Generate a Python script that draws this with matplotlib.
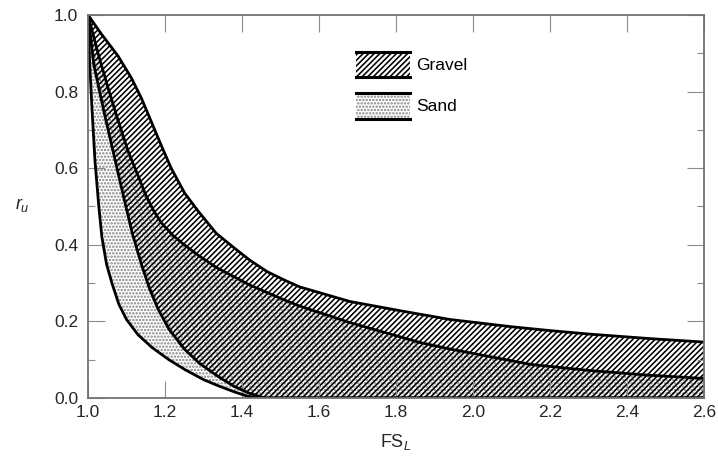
import numpy as np
import matplotlib
matplotlib.use('Agg')
import matplotlib.pyplot as plt
from matplotlib.patches import Rectangle
from matplotlib.lines import Line2D
from matplotlib.legend_handler import HandlerBase

plt.rcParams['font.family'] = ['Liberation Sans', 'DejaVu Sans']
plt.rcParams['mathtext.fontset'] = 'custom'
plt.rcParams['mathtext.rm'] = 'Liberation Sans'
plt.rcParams['mathtext.it'] = 'Liberation Sans:italic'
plt.rcParams['hatch.linewidth'] = 1.15

# curves (FS_L, r_u)
# gravel upper bound
gravel_up_fs = [1.0, 1.035, 1.078, 1.113, 1.139, 1.165, 1.19, 1.216, 1.251, 1.286, 1.333, 1.382,
                1.42, 1.465, 1.512, 1.55, 1.68, 1.81, 1.94, 2.1, 2.2, 2.3, 2.46, 2.6]
gravel_up_r = [1.0, 0.95, 0.893, 0.835, 0.782, 0.72, 0.66, 0.60, 0.535, 0.488, 0.43, 0.39,
               0.36, 0.33, 0.307, 0.29, 0.252, 0.228, 0.205, 0.186, 0.176, 0.167, 0.155, 0.146]
# gravel lower bound
gravel_lo_fs = [1.0, 1.015, 1.043, 1.073, 1.096, 1.115, 1.14, 1.16, 1.182, 1.21, 1.25, 1.29,
                1.338, 1.38, 1.42, 1.46, 2.6]
gravel_lo_r = [1.0, 0.87, 0.74, 0.61, 0.51, 0.43, 0.345, 0.285, 0.232, 0.18, 0.128, 0.09,
               0.056, 0.03, 0.012, 0.0, 0.0]
# sand upper bound
sand_up_fs = [1.0, 1.026, 1.052, 1.078, 1.104, 1.13, 1.15, 1.17, 1.19, 1.22, 1.25, 1.29, 1.335,
              1.42, 1.51, 1.55, 1.68, 1.862, 1.94, 2.148, 2.3, 2.45, 2.6]
sand_up_r = [1.0, 0.90, 0.81, 0.725, 0.645, 0.58, 0.53, 0.49, 0.458, 0.425, 0.40, 0.37, 0.34,
             0.295, 0.256, 0.24, 0.197, 0.145, 0.128, 0.088, 0.072, 0.06, 0.051]
# sand lower bound
sand_lo_fs = [1.0, 1.004, 1.01, 1.018, 1.028, 1.036, 1.048, 1.062, 1.08, 1.1, 1.13, 1.166, 1.21,
              1.252, 1.3, 1.338, 1.38, 1.41, 1.44, 2.6]
sand_lo_r = [1.0, 0.88, 0.76, 0.62, 0.50, 0.42, 0.35, 0.30, 0.245, 0.205, 0.165, 0.132, 0.10,
             0.074, 0.048, 0.032, 0.016, 0.006, 0.0, 0.0]

x_ticks = [1.0, 1.2, 1.4, 1.6, 1.8, 2.0, 2.2, 2.4, 2.6]
y_ticks = [0.0, 0.2, 0.4, 0.6, 0.8, 1.0]


class BandHandler(HandlerBase):
    # hatched box with a heavy line on top and bottom only
    def create_artists(self, legend, orig_handle, xdescent, ydescent, width, height, fontsize, trans):
        box = Rectangle((-xdescent, -ydescent), width, height, facecolor='none',
                        edgecolor=orig_handle.get_edgecolor(), linewidth=0,
                        hatch=orig_handle.get_hatch(), transform=trans)
        top = Line2D([-xdescent, -xdescent + width], [-ydescent + height] * 2, color='black', lw=2.2, transform=trans)
        bot = Line2D([-xdescent, -xdescent + width], [-ydescent] * 2, color='black', lw=2.2, transform=trans)
        return [box, top, bot]


fig = plt.figure(figsize=(7.18, 4.63), dpi=100)
ax = fig.add_axes([0.1226, 0.1404, 0.8579, 0.8272])

# sand band (dots)
sand_poly_x = sand_up_fs + sand_lo_fs[::-1]
sand_poly_y = sand_up_r + sand_lo_r[::-1]
sand = ax.fill(sand_poly_x, sand_poly_y, facecolor='none', edgecolor='0.5', linewidth=0, hatch='.....')[0]

# gravel band (diagonal hatch)
gr_poly_x = gravel_up_fs + gravel_lo_fs[::-1]
gr_poly_y = gravel_up_r + gravel_lo_r[::-1]
gravel = ax.fill(gr_poly_x, gr_poly_y, facecolor='none', edgecolor='black', linewidth=0, hatch='//////')[0]

for fs, r in [(gravel_up_fs, gravel_up_r), (gravel_lo_fs, gravel_lo_r), (sand_up_fs, sand_up_r), (sand_lo_fs, sand_lo_r)]:
    ax.plot(fs, r, color='black', lw=2.0, solid_joinstyle='round', solid_capstyle='round')

ax.set_xlim(1.0, 2.6)
ax.set_ylim(0.0, 1.0)
ax.set_xticks(x_ticks)
ax.set_xticklabels(['%.1f' % v for v in x_ticks])
ax.set_yticks(y_ticks)
ax.set_yticklabels(['%.1f' % v for v in y_ticks])
ax.set_yticks(np.arange(0.1, 1.0, 0.2), minor=True)

ax.tick_params(which='both', direction='in', top=True, right=True, color='0.55', width=0.8)
ax.tick_params(which='major', length=12, labelsize=12.5, labelcolor='0.15')
ax.tick_params(which='minor', length=5)
ax.tick_params(axis='y', pad=7)
ax.tick_params(axis='x', pad=5)
for sp in ax.spines.values():
    sp.set_color('0.45')
    sp.set_linewidth(1.3)

ax.set_xlabel('FS$_L$', fontsize=13, color='0.15')
ax.xaxis.set_label_coords(0.5, -0.09)
ax.set_ylabel('$r_u$', fontsize=13, rotation=0, color='0.15')
ax.yaxis.set_label_coords(-0.107, 0.48)

ax.legend([gravel, sand], ['Gravel', 'Sand'], handler_map={gravel: BandHandler(), sand: BandHandler()},
          loc='upper left', bbox_to_anchor=(0.41, 0.945), frameon=False, fontsize=12.5,
          handlelength=3.1, handleheight=1.9, labelspacing=0.9, handletextpad=0.35)

fig.savefig('out.png', dpi=100)
